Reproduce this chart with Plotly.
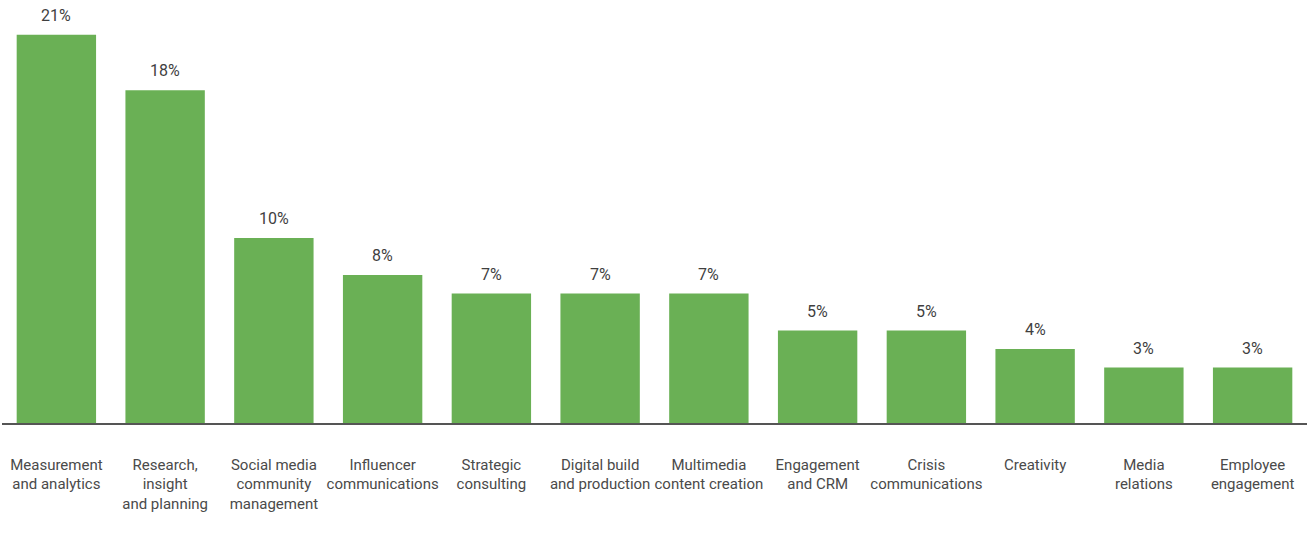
import plotly.graph_objects as go

categories = [
    "Measurement<br>and analytics",
    "Research,<br>insight<br>and planning",
    "Social media<br>community<br>management",
    "Influencer<br>communications",
    "Strategic<br>consulting",
    "Digital build<br>and production",
    "Multimedia<br>content creation",
    "Engagement<br>and CRM",
    "Crisis<br>communications",
    "Creativity",
    "Media<br>relations",
    "Employee<br>engagement",
]
values = [21, 18, 10, 8, 7, 7, 7, 5, 5, 4, 3, 3]

BAR_COLOR = "#6AB055"
TEXT_COLOR = "#4a4a4a"
FONT = "Roboto, sans-serif"

fig = go.Figure()
fig.add_trace(
    go.Bar(
        x=categories,
        y=values,
        marker=dict(color=BAR_COLOR, line=dict(width=0)),
        hoverinfo="skip",
    )
)

for c, v in zip(categories, values):
    fig.add_annotation(
        x=c, y=v, text=f"{v}%", showarrow=False,
        yanchor="bottom", yshift=8,
        font=dict(size=16, color="#3f3f3f", family=FONT),
    )

fig.update_layout(
    width=1307,
    height=533,
    paper_bgcolor="white",
    plot_bgcolor="white",
    bargap=0.27,
    showlegend=False,
    margin=dict(l=2, r=0, t=7, b=110, autoexpand=False),
    font=dict(family=FONT, color=TEXT_COLOR),
    xaxis=dict(
        showline=True, linecolor="#555555", linewidth=1.5,
        showgrid=False, ticks="", ticklabelstandoff=27, tickangle=0,
        automargin=False,
        tickfont=dict(size=15, color=TEXT_COLOR, family=FONT),
    ),
    yaxis=dict(
        range=[0, 22.5], visible=False, showgrid=False, zeroline=False,
    ),
)

# drop the default page margin so the chart sits at the window's top-left
fig.write_html(
    "out.html",
    config={"displayModeBar": False},
    post_script="document.body.style.margin='0';",
)
